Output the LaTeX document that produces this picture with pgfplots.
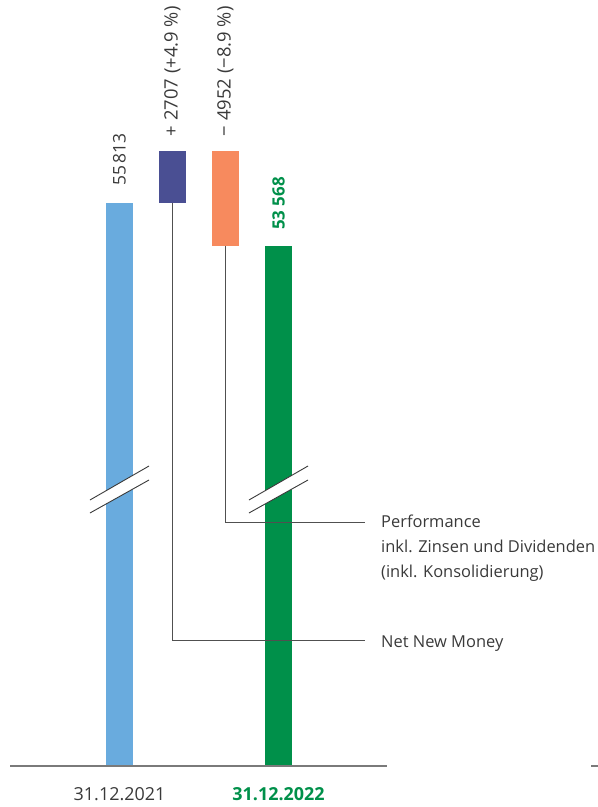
\documentclass[border=0pt]{standalone}
\usepackage{pgfplots}
\pgfplotsset{compat=1.18}
\usepackage{pgfplotstable}
\usepackage{fontspec}
\setmainfont{Open Sans}

\definecolor{startblue}{HTML}{69ABDE}
\definecolor{nnmblue}{HTML}{4A4F93}
\definecolor{perforange}{HTML}{F78A5E}
\definecolor{endgreen}{HTML}{00904A}
\definecolor{txtgray}{HTML}{3A3A3A}
\definecolor{linegray}{HTML}{505050}
\definecolor{basegray}{HTML}{7A7A7A}

\newcommand{\lblfont}{\fontsize{16.5}{24.5}\selectfont}
\newcommand{\valfont}{\fontsize{17.5}{20}\selectfont}
\newcommand{\chgfont}{\fontsize{18.5}{20}\selectfont}

% Invested assets bridge (CHF million); columns are the stack layers.
% Values above the axis break are drawn shifted down by 26343.
\pgfplotstableread{
pos base  start nnm  perf final
0   0     55813 0    0    0
1   55813 0     2707 0    0
2   53568 0     0    4952 0
3   0     0     0    0    53568
}\bridge

\pgfplotsset{
  bridge frame/.style={
    at={(10bp,41bp)}, anchor=south west,
    scale only axis, width=588bp, height=766bp,
    xmin=-2.066, xmax=9.028, ymin=0, ymax=40105,
    axis line style={draw=none}, major tick length=0pt,
    ytick=\empty, clip=false,
  },
}

\begin{document}
\begin{tikzpicture}
\path[use as bounding box] (0,0) rectangle (598bp,807bp);
% bars
\begin{axis}[
  bridge frame,
  xtick={0,3},
  xticklabels={31.12.2021, {\color{endgreen}\bfseries 31.12.2022}},
  xticklabel style={anchor=base, yshift=-35bp, font=\fontsize{18}{20}\selectfont, text=txtgray},
  ybar stacked, bar width=27bp,
]
\addplot[draw=none, fill=none] table[x=pos, y expr={\thisrow{base}-26343*(\thisrow{base}>0)}] {\bridge};
\addplot[draw=none, fill=startblue] table[x=pos, y expr={\thisrow{start}-26343*(\thisrow{start}>0)}] {\bridge};
\addplot[draw=none, fill=nnmblue] table[x=pos, y=nnm] {\bridge};
\addplot[draw=none, fill=perforange] table[x=pos, y=perf] {\bridge};
\addplot[draw=none, fill=endgreen] table[x=pos, y expr={\thisrow{final}-26343*(\thisrow{final}>0)}] {\bridge};
\end{axis}
% annotations on top of the bars
\begin{axis}[bridge frame, xtick=\empty]
% baseline
\draw[basegray, line width=1.3bp] (axis cs:-2.066,0) -- (axis cs:5.047,0);
\draw[basegray, line width=1.3bp] (axis cs:8.896,0) -- (axis cs:9.028,0);

% axis break marks on the two totals
\fill[white] (axis cs:-0.557,13927) -- (axis cs:0.557,15707) -- (axis cs:0.557,14974) -- (axis cs:-0.557,13246) -- cycle;
\draw[txtgray, line width=0.9bp] (axis cs:-0.557,13927) -- (axis cs:0.557,15707);
\draw[txtgray, line width=0.9bp] (axis cs:-0.557,13246) -- (axis cs:0.557,14974);
\fill[white] (axis cs:2.443,13927) -- (axis cs:3.557,15707) -- (axis cs:3.557,14974) -- (axis cs:2.443,13246) -- cycle;
\draw[txtgray, line width=0.9bp] (axis cs:2.443,13927) -- (axis cs:3.557,15707);
\draw[txtgray, line width=0.9bp] (axis cs:2.443,13246) -- (axis cs:3.557,14974);

% connectors to the descriptions
\draw[linegray, line width=0.9bp] (axis cs:1,29470) -- (axis cs:1,6597) -- (axis cs:4.632,6597);
\draw[linegray, line width=0.9bp] (axis cs:2,27225) -- (axis cs:2,12775) -- (axis cs:4.632,12775);

\node[inner sep=0pt, text=txtgray, font=\lblfont, anchor=base west] at (axis cs:4.934,12461) {Performance};
\node[inner sep=0pt, text=txtgray, font=\lblfont, anchor=base west] at (axis cs:4.934,11204) {inkl. Zinsen und Dividenden};
\node[inner sep=0pt, text=txtgray, font=\lblfont, anchor=base west] at (axis cs:4.934,9895) {(inkl. Konsolidierung)};
\node[inner sep=0pt, text=txtgray, font=\lblfont, anchor=base west] at (axis cs:4.934,6230) {Net New Money};

% value labels above the bars (xshift runs along the rotated text)
\node[inner sep=0pt, text=txtgray, font=\valfont, rotate=90, anchor=west, xshift=17bp] at (axis cs:0,29470) {55\,813};
\node[inner sep=0pt, text=txtgray, font=\chgfont, rotate=90, anchor=west, xshift=15bp] at (axis cs:1,32177) {+ 2707 (+4.9 \%)};
\node[inner sep=0pt, text=txtgray, font=\chgfont, rotate=90, anchor=west, xshift=15bp] at (axis cs:2,32177) {− 4952 (−8.9 \%)};
\node[inner sep=0pt, text=endgreen, font=\fontsize{17}{20}\selectfont\bfseries, rotate=90, anchor=west, xshift=16bp] at (axis cs:3,27225) {53 568};
\end{axis}
\end{tikzpicture}
\end{document}
